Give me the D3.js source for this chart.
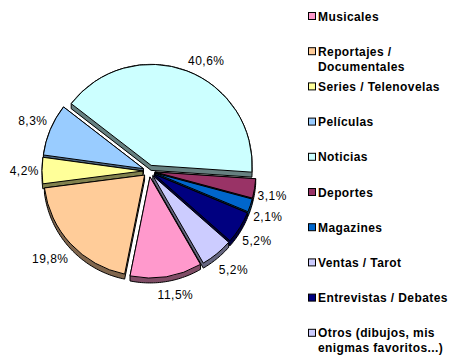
<!DOCTYPE html>
<html>
<head>
<meta charset="utf-8">
<script src="https://cdn.jsdelivr.net/npm/d3@7"></script>
<style>
  body { margin: 0; background: #fff; }
  svg { display: block; font-family: "Liberation Sans", Arial, sans-serif; }
</style>
</head>
<body>
<div id="chart"></div>
<script>
// data (percent of answers)
var categories = ['Musicales', 'Reportajes / Documentales', 'Series / Telenovelas', 'Películas',
  'Noticias', 'Deportes', 'Magazines', 'Ventas / Tarot', 'Entrevistas / Debates',
  'Otros (dibujos, mis enigmas favoritos...)'];
var values = [11.5, 19.8, 4.2, 8.3, 40.6, 3.1, 2.1, 0, 5.2, 5.2];
var colors = ['#ff99cc', '#ffcc99', '#ffff99', '#99ccff', '#ccffff',
  '#993366', '#0066cc', '#ccccff', '#000080', '#ccccff'];

var w = 466, h = 364;
var cx = 149, cy = 171, r = 101;
var depth = 5, explode = 6;

var locale = d3.formatLocale({decimal: ',', thousands: '.', grouping: [3], currency: ['', ' €']});
var pct = locale.format('.1f');

var svg = d3.select('#chart')
  .append('svg')
  .attr('width', w)
  .attr('height', h);

var pie = d3.pie()
  .sort(null)
  .value(function(d) { return d; })
  .startAngle(150 * Math.PI / 180)
  .endAngle(510 * Math.PI / 180);

var arc = d3.arc().innerRadius(0).outerRadius(r);

function shade(c) {
  var col = d3.rgb(c);
  return d3.rgb(col.r * 0.5, col.g * 0.5, col.b * 0.5).toString();
}

// side of the extruded slice = hull of top face and the same face moved down
function sidePath(d) {
  var pts = [[0, 0]];
  var n = Math.max(8, Math.ceil((d.endAngle - d.startAngle) / 0.02));
  for (var k = 0; k <= n; k++) {
    var a = d.startAngle + (d.endAngle - d.startAngle) * k / n;
    pts.push([r * Math.sin(a), -r * Math.cos(a)]);
  }
  var all = pts.concat(pts.map(function(p) { return [p[0], p[1] + depth]; }));
  var hull = d3.polygonHull(all);
  return 'M' + hull.join('L') + 'Z';
}

var slices = pie(values)
  .map(function(d, i) {
    var mid = (d.startAngle + d.endAngle) / 2;
    d.i = i;
    d.mid = mid;
    d.ox = cx + explode * Math.sin(mid);
    d.oy = cy - explode * Math.cos(mid);
    return d;
  })
  .filter(function(d) { return d.value > 0; })
  .sort(function(a, b) {
    return (a.oy + arc.centroid(a)[1]) - (b.oy + arc.centroid(b)[1]);
  });

var g = svg.selectAll('g.slice')
  .data(slices)
  .enter()
  .append('g')
  .attr('class', 'slice')
  .attr('transform', function(d) { return 'translate(' + d.ox + ',' + d.oy + ')'; });

g.append('path')
  .attr('d', sidePath)
  .attr('fill', function(d) { return shade(colors[d.i]); })
  .attr('stroke', '#000')
  .attr('stroke-width', 1)
  .attr('stroke-linejoin', 'round');

g.append('path')
  .attr('d', arc)
  .attr('fill', function(d) { return colors[d.i]; })
  .attr('stroke', '#000')
  .attr('stroke-width', 1)
  .attr('stroke-linejoin', 'round');

// labels: box corner sits just outside the rim, like excel's "outside end"
function clamp(v) { return Math.max(-1, Math.min(1, v)); }

svg.selectAll('text.lbl')
  .data(slices)
  .enter()
  .append('text')
  .attr('class', 'lbl')
  .attr('text-anchor', 'middle')
  .attr('font-size', '12px')
  .attr('letter-spacing', '0.5px')
  .attr('fill', '#000')
  .text(function(d) { return pct(d.value) + '%'; })
  .each(function(d) {
    var s = Math.sin(d.mid), c = Math.cos(d.mid);
    var tw = this.getComputedTextLength();
    var px = d.ox + (r + 3) * s;
    var py = d.oy - (r + 3) * c;
    var tx = px + clamp(s * 3) * tw / 2;
    var ty = py - clamp(c * 4) * 7.5 + Math.max(0, -c) * 8;
    d3.select(this).attr('x', tx).attr('y', ty + 4.3);
  });

// legend
var lx = 308, ly = 16, step = 35.2, wrapW = 142;

var leg = svg.selectAll('g.legend')
  .data(categories)
  .enter()
  .append('g')
  .attr('class', 'legend')
  .attr('transform', function(d, i) { return 'translate(' + lx + ',' + (ly + i * step) + ')'; });

leg.append('rect')
  .attr('x', 0.5)
  .attr('y', -3.5)
  .attr('width', 7)
  .attr('height', 7)
  .attr('fill', function(d, i) { return colors[i]; })
  .attr('stroke', '#000');

leg.append('text')
  .attr('x', 10)
  .attr('y', 4.5)
  .attr('font-size', '12px')
  .attr('font-weight', 'bold')
  .attr('letter-spacing', '0.4px')
  .attr('fill', '#000')
  .each(function(d) {
    var text = d3.select(this);
    var words = d.split(' ');
    var line = [];
    var tspan = text.append('tspan').attr('x', 10).attr('dy', 0);
    words.forEach(function(word) {
      line.push(word);
      tspan.text(line.join(' '));
      if (tspan.node().getComputedTextLength() > wrapW && line.length > 1) {
        line.pop();
        tspan.text(line.join(' '));
        line = [word];
        tspan = text.append('tspan').attr('x', 10).attr('dy', 15).text(word);
      }
    });
  });
</script>
</body>
</html>
